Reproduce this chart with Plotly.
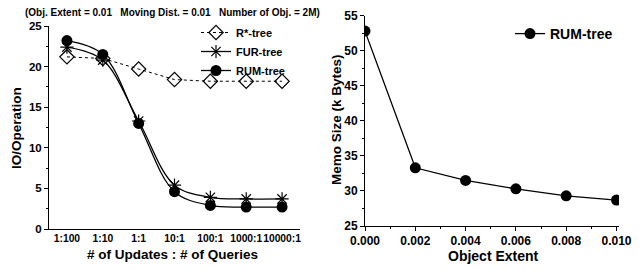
import plotly.graph_objects as go

ratios = ["1:100", "1:10", "1:1", "10:1", "100:1", "1000:1", "10000:1"]
rstar = [21.2, 21.0, 19.7, 18.4, 18.2, 18.2, 18.2]
fur = [22.4, 20.8, 13.3, 5.4, 3.9, 3.7, 3.7]
rum = [23.2, 21.5, 13.0, 4.6, 2.9, 2.7, 2.7]

extent = [0.0, 0.002, 0.004, 0.006, 0.008, 0.010]
memo = [52.8, 33.3, 31.5, 30.3, 29.3, 28.7]

FONT = "Liberation Sans, Arial, sans-serif"

def bold(size):
    return dict(family=FONT, size=size, color="black", weight="bold")

# page has an 8px body margin; figure is placed at (8, 8) in the window
OFF = 8
W, H = 636, 262

def px(x):
    return (x - OFF) / W

def py(y):
    return 1 - (y - OFF) / H

fig = go.Figure()
fig.add_trace(go.Scatter(x=ratios, y=rstar, name="R*-tree", mode="lines+markers",
                         line=dict(color="black", width=1, dash="dot"),
                         marker=dict(symbol="diamond-open", size=11, color="black", line=dict(width=1.2)),
                         xaxis="x", yaxis="y", legend="legend"))
fig.add_trace(go.Scatter(x=ratios, y=fur, name="FUR-tree", mode="lines+markers",
                         line=dict(color="black", width=1.3, shape="spline", smoothing=1.0),
                         marker=dict(symbol="asterisk-open", size=11, color="black", line=dict(width=1.2, color="black")),
                         xaxis="x", yaxis="y", legend="legend"))
fig.add_trace(go.Scatter(x=ratios, y=rum, name="RUM-tree", mode="lines+markers",
                         line=dict(color="black", width=1.3, shape="spline", smoothing=1.0),
                         marker=dict(symbol="circle", size=11, color="black"),
                         xaxis="x", yaxis="y", legend="legend"))
fig.add_trace(go.Scatter(x=extent, y=memo, name="RUM-tree", mode="lines+markers",
                         line=dict(color="black", width=1.3),
                         marker=dict(symbol="circle", size=11, color="black"),
                         xaxis="x2", yaxis="y2", legend="legend2"))

axis_common = dict(showline=True, linecolor="black", linewidth=1, showgrid=False, zeroline=False,
                   ticks="outside", ticklen=4, tickcolor="black", automargin=False)

fig.update_layout(
    width=W, height=H, margin=dict(l=0, r=0, t=0, b=0, autoexpand=False),
    paper_bgcolor="white", plot_bgcolor="white",
    font=dict(family=FONT, color="black"),
    xaxis=dict(domain=[px(49), px(300)], anchor="y", range=[-0.5, 6.5], tickangle=0,
               tickfont=bold(10.3), **{**axis_common, "ticks": ""}),
    yaxis=dict(domain=[py(229), py(26)], anchor="x", range=[0, 25], dtick=5, tickfont=bold(11.5),
               minor=dict(ticks="outside", ticklen=2, dtick=2.5, tickcolor="black"), **axis_common),
    xaxis2=dict(domain=[px(365), px(619)], anchor="y2", range=[0, 0.0101], dtick=0.002, tickformat=".3f",
                tickangle=0, tickfont=bold(12),
                minor=dict(ticks="outside", ticklen=2, dtick=0.001, tickcolor="black"), **axis_common),
    yaxis2=dict(domain=[py(226), py(15.7)], anchor="x2", range=[25, 55], dtick=5, tickfont=bold(12),
                minor=dict(ticks="outside", ticklen=2, dtick=2.5, tickcolor="black"), **axis_common),
    legend=dict(x=px(196), y=py(18), xanchor="left", yanchor="top", bgcolor="rgba(0,0,0,0)",
                font=bold(11), tracegroupgap=0, itemwidth=30),
    legend2=dict(x=px(510), y=py(18), xanchor="left", yanchor="top", bgcolor="rgba(0,0,0,0)",
                 font=bold(14), itemwidth=30),
    annotations=[
        dict(text="(Obj. Extent = 0.01   Moving Dist. = 0.01   Number of Obj. = 2M)", x=px(23), y=py(12),
             xref="paper", yref="paper", showarrow=False, xanchor="left", yanchor="middle", font=bold(10)),
        dict(text="IO/Operation", x=px(16), y=py(128), xref="paper", yref="paper", showarrow=False,
             textangle=-90, xanchor="center", yanchor="middle", font=bold(13.5)),
        dict(text="# of Updates : # of Queries", x=px(172), y=py(254), xref="paper", yref="paper",
             showarrow=False, xanchor="center", yanchor="middle", font=bold(13.5)),
        dict(text="Memo Size (k Bytes)", x=px(336), y=py(120), xref="paper", yref="paper", showarrow=False,
             textangle=-90, xanchor="center", yanchor="middle", font=bold(13.5)),
        dict(text="Object Extent", x=px(493), y=py(256), xref="paper", yref="paper", showarrow=False,
             xanchor="center", yanchor="middle", font=bold(14)),
    ],
)

fig.write_html("out.html")
